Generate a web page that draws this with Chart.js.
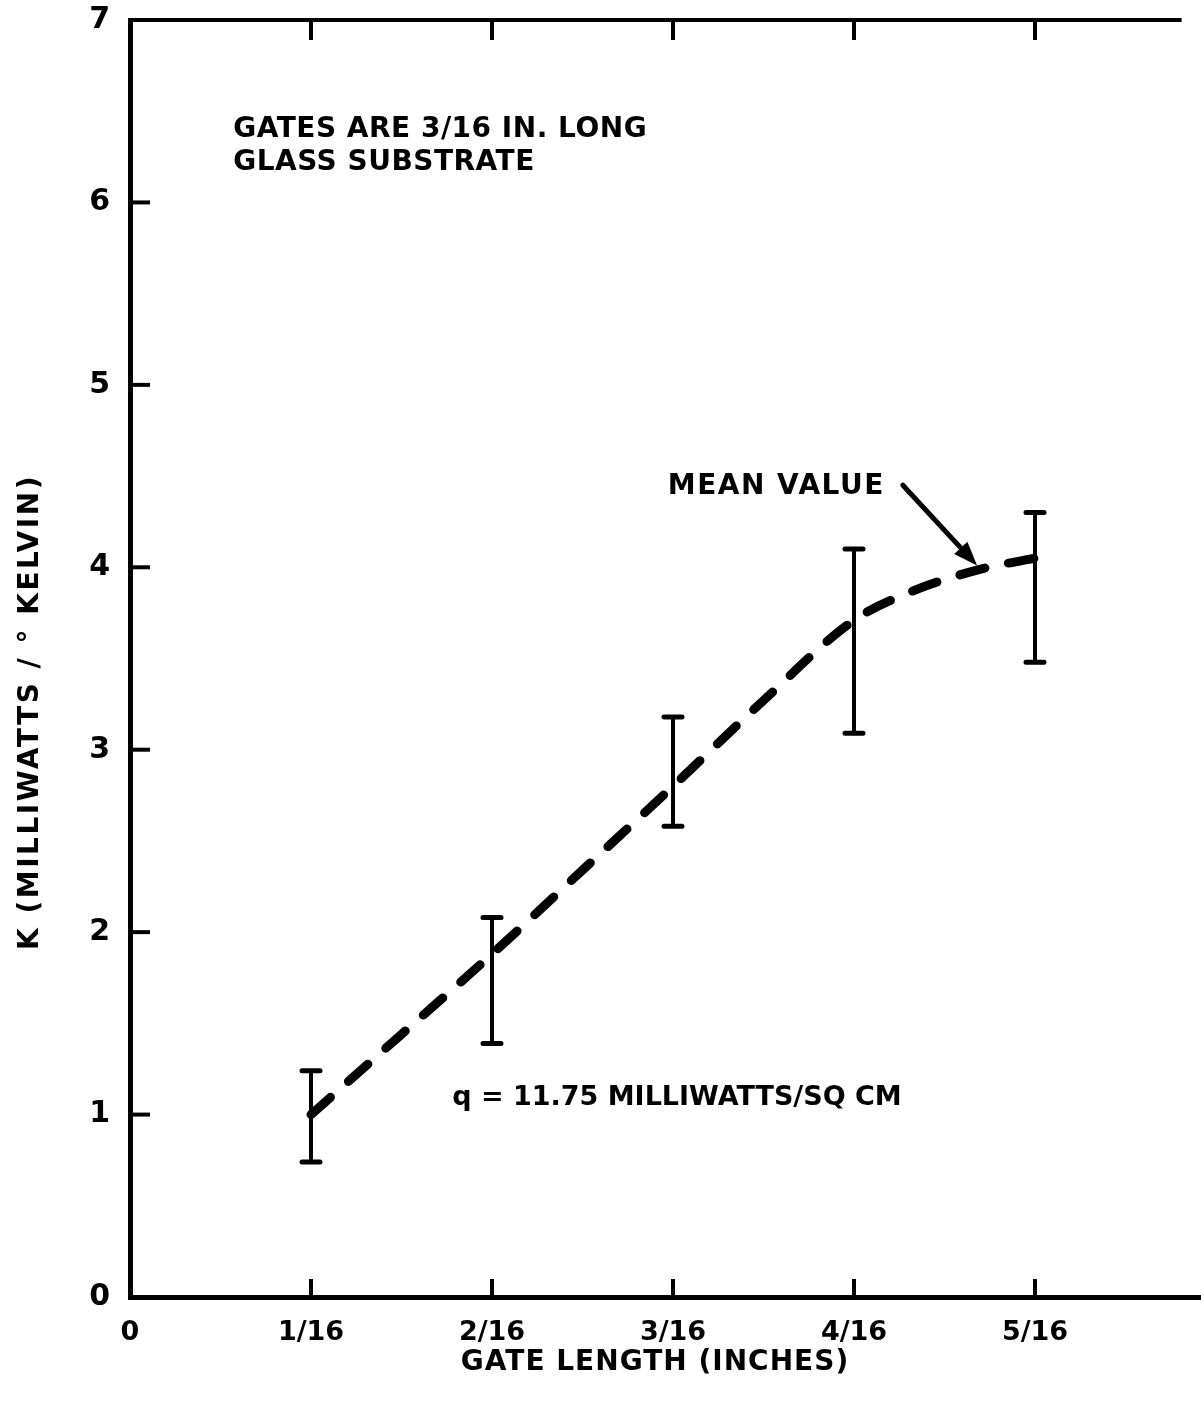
<!DOCTYPE html>
<html>
<head>
<meta charset="utf-8">
<script src="https://cdn.jsdelivr.net/npm/chart.js@4.4.1/dist/chart.umd.min.js"></script>
<style>
html,body{margin:0;padding:0;background:#fff;overflow:hidden;}
#wrap{width:1240px;height:1409px;}
</style>
</head>
<body>
<div id="wrap"><canvas id="kChart" width="1240" height="1409"></canvas></div>
<script>
// gate length, in sixteenths of an inch
const gateLen = [1, 2, 3, 4, 5];
// spread of measured K at each gate length
const kLow  = [0.74, 1.39, 2.58, 3.09, 3.48];
const kHigh = [1.24, 2.08, 3.18, 4.10, 4.30];

// dashed mean value curve
const meanX = [1, 1.5, 2, 2.5, 3, 3.5, 4, 4.3, 4.7, 5];
const meanK = [1.0, 1.44, 1.88, 2.34, 2.8, 3.27, 3.71, 3.86, 3.99, 4.05];

const xTickLabels = ["0", "1/16", "2/16", "3/16", "4/16", "5/16", "6"];
const yTickLabels = ["0", "1", "2", "3", "4", "5", "6", "7"];

const xTitle = "GATE LENGTH (INCHES)";
const yTitle = "K (MILLIWATTS / \u00B0 KELVIN)";
const noteLines = ["GATES ARE 3/16 IN. LONG", "GLASS SUBSTRATE"];
const qNote = "q = 11.75 MILLIWATTS/SQ CM";
const meanLabel = "MEAN VALUE";
const arrowFrom = [4.27, 4.45];
const arrowTo = [4.68, 4.01];

const FONT = "'DejaVu Sans', sans-serif";

const extras = {
  id: "extras",
  afterDatasetsDraw(chart){
    const ctx = chart.ctx;
    const xs = chart.scales.x, ys = chart.scales.y;
    const a = chart.chartArea;
    ctx.save();
    ctx.strokeStyle = "#000";
    ctx.fillStyle = "#000";

    /* error bars */
    ctx.lineCap = "round";
    gateLen.forEach((g, i) => {
      const px = xs.getPixelForValue(g);
      const top = ys.getPixelForValue(kHigh[i]);
      const bot = ys.getPixelForValue(kLow[i]);
      ctx.lineWidth = 4;
      ctx.beginPath();
      ctx.moveTo(px, top); ctx.lineTo(px, bot);
      ctx.stroke();
      ctx.lineWidth = 5;
      ctx.beginPath();
      ctx.moveTo(px - 9, top); ctx.lineTo(px + 9, top);
      ctx.moveTo(px - 9, bot); ctx.lineTo(px + 9, bot);
      ctx.stroke();
    });

    /* inward ticks */
    ctx.lineCap = "butt";
    ctx.lineWidth = 4;
    for (let v = 1; v <= 5; v++) {
      const px = xs.getPixelForValue(v);
      ctx.beginPath();
      ctx.moveTo(px, a.bottom); ctx.lineTo(px, a.bottom - 18);
      ctx.moveTo(px, a.top); ctx.lineTo(px, a.top + 20);
      ctx.stroke();
    }
    for (let v = 1; v <= 6; v++) {
      const py = ys.getPixelForValue(v);
      ctx.beginPath();
      ctx.moveTo(a.left, py); ctx.lineTo(a.left + 20, py);
      ctx.stroke();
    }

    /* top frame line */
    ctx.lineWidth = 4;
    ctx.beginPath();
    ctx.moveTo(a.left - 2, a.top);
    ctx.lineTo(xs.getPixelForValue(5.81), a.top);
    ctx.stroke();

    /* arrow to the mean curve */
    const x0 = xs.getPixelForValue(arrowFrom[0]), y0 = ys.getPixelForValue(arrowFrom[1]);
    const x1 = xs.getPixelForValue(arrowTo[0]), y1 = ys.getPixelForValue(arrowTo[1]);
    const ang = Math.atan2(y1 - y0, x1 - x0);
    const head = 24, half = 9;
    const bx = x1 - head * Math.cos(ang), by = y1 - head * Math.sin(ang);
    ctx.lineWidth = 5;
    ctx.lineCap = "round";
    ctx.beginPath(); ctx.moveTo(x0, y0); ctx.lineTo(bx, by); ctx.stroke();
    ctx.beginPath();
    ctx.moveTo(x1, y1);
    ctx.lineTo(bx + half * Math.sin(ang), by - half * Math.cos(ang));
    ctx.lineTo(bx - half * Math.sin(ang), by + half * Math.cos(ang));
    ctx.closePath(); ctx.fill();

    /* notes */
    ctx.textBaseline = "middle";
    ctx.font = "bold 28px " + FONT;
    ctx.letterSpacing = "0.5px";
    ctx.textAlign = "left";
    ctx.fillText(noteLines[0], xs.getPixelForValue(0.57), ys.getPixelForValue(6.40));
    ctx.fillText(noteLines[1], xs.getPixelForValue(0.57), ys.getPixelForValue(6.22));

    ctx.letterSpacing = "1.5px";
    ctx.textAlign = "right";
    ctx.fillText(meanLabel, xs.getPixelForValue(4.17), ys.getPixelForValue(4.44));

    ctx.font = "bold 27px " + FONT;
    ctx.letterSpacing = "0px";
    ctx.textAlign = "left";
    ctx.fillText(qNote, xs.getPixelForValue(1.78), ys.getPixelForValue(1.09));

    /* axis titles */
    ctx.font = "bold 28px " + FONT;
    ctx.letterSpacing = "1px";
    ctx.textAlign = "center";
    ctx.fillText(xTitle, 655, 1363);

    ctx.save();
    ctx.translate(31, 712);
    ctx.rotate(-Math.PI / 2);
    ctx.letterSpacing = "2.5px";
    ctx.fillText(yTitle, 0, 0);
    ctx.restore();

    ctx.restore();
  }
};

new Chart(document.getElementById("kChart"), {
  type: "line",
  data: {
    datasets: [{
      label: "Mean value",
      data: meanX.map((x, i) => ({x: x, y: meanK[i]})),
      borderColor: "#000",
      borderWidth: 9,
      borderDash: [26, 24],
      borderCapStyle: "round",
      cubicInterpolationMode: "monotone",
      pointRadius: 0,
      fill: false
    }]
  },
  options: {
    responsive: false,
    animation: false,
    layout: {padding: {top: 20, right: 24, left: 0, bottom: 0}},
    plugins: {legend: {display: false}, tooltip: {enabled: false}},
    scales: {
      x: {
        type: "linear", min: 0, max: 6,
        afterFit: s => { s.height = 112; s.paddingLeft = 0; s.paddingRight = 0; },
        border: {display: true, color: "#000", width: 5},
        grid: {display: false},
        ticks: {
          stepSize: 1, color: "#000", padding: 12,
          font: {family: FONT, weight: "bold", size: 27},
          maxRotation: 0,
          callback: v => xTickLabels[v]
        }
      },
      y: {
        type: "linear", min: 0, max: 7,
        afterFit: s => { s.width = 130; s.paddingTop = 0; s.paddingBottom = 0; },
        border: {display: true, color: "#000", width: 5},
        grid: {display: false},
        ticks: {
          stepSize: 1, color: "#000", padding: 12,
          font: {family: FONT, weight: "bold", size: 30},
          callback: v => yTickLabels[v]
        }
      }
    }
  },
  plugins: [extras]
});
</script>
</body>
</html>
